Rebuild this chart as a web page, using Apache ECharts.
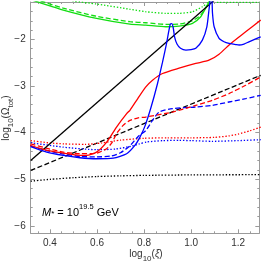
<!DOCTYPE html>
<html><head><meta charset="utf-8">
<script src="https://cdn.jsdelivr.net/npm/echarts@6/dist/echarts.min.js"></script>
<style>html,body{margin:0;padding:0;background:#fff}#c{width:262px;height:263px}</style>
</head><body><div id="c"></div>
<script>
// ---- tick positions / labels ----
const xMajorTicks = [0.4, 0.6, 0.8, 1.0, 1.2];
const xMinorTicks = [0.35, 0.45, 0.5, 0.55, 0.65, 0.7, 0.75, 0.85, 0.9, 0.95, 1.05, 1.1, 1.15, 1.25];
const yMajorTicks = [-6, -5, -4, -3, -2];
const yMinorTicks = [-5.8, -5.6, -5.4, -5.2, -4.8, -4.6, -4.4, -4.2, -3.8, -3.6, -3.4, -3.2, -2.8, -2.6, -2.4, -2.2, -1.8, -1.6, -1.4];
const xRange = [0.318, 1.290];
const yRange = [-6.157, -1.198];

// ---- series values [log10(xi), log10(Omega_tot)] ----
const blackSolid = [[0.318, -4.595], [1.10, -1.154]];
const blackDashed = [[0.318, -4.81], [1.296, -2.77]];
const blackDotted = [[0.318, -5.04], [0.40, -5.0], [0.50, -4.965], [0.60, -4.94], [0.70, -4.925], [0.80, -4.915], [1.0, -4.905], [1.29, -4.9]];

const greenSolid = [[0.318, -1.15], [0.3435, -1.19], [0.4565, -1.37], [0.598, -1.548], [0.740, -1.671], [0.8076, -1.693], [0.8925, -1.729], [0.949, -1.714], [1.006, -1.656], [1.041, -1.514], [1.062, -1.333], [1.079, -1.177], [1.085, -1.1]];
const greenDashed = [[0.33, -1.12], [0.357, -1.17], [0.4565, -1.33], [0.598, -1.505], [0.740, -1.621], [0.8076, -1.643], [0.8925, -1.677], [0.949, -1.671], [1.006, -1.6], [1.041, -1.477], [1.062, -1.32], [1.079, -1.177], [1.085, -1.1]];
const greenDotted = [[0.47, -1.12], [0.499, -1.176], [0.598, -1.241], [0.740, -1.355], [0.8076, -1.407], [0.8925, -1.441], [0.949, -1.441], [1.006, -1.407], [1.048, -1.299], [1.075, -1.192], [1.085, -1.1]];
const greenDottedTop = [[1.11, -1.207], [1.29, -1.207]];

const blueSolid = [[0.318, -4.30], [0.386, -4.417], [0.4565, -4.488], [0.527, -4.537], [0.598, -4.559], [0.669, -4.546], [0.726, -4.451], [0.761, -4.273], [0.782, -4.10], [0.803, -3.87], [0.83, -3.45], [0.857, -2.95], [0.878, -2.5], [0.895, -2.1], [0.906, -1.8], [0.912, -1.67], [0.918, -1.66], [0.924, -1.75], [0.93, -1.95], [0.94, -2.1], [0.955, -2.19], [0.978, -2.23], [1.0, -2.22], [1.02, -2.19], [1.048, -2.015], [1.067, -1.729], [1.076, -1.37], [1.081, -1.15], [1.085, -0.9], [1.089, -1.15], [1.091, -1.44], [1.098, -1.729], [1.119, -1.979], [1.14, -2.05], [1.161, -2.086], [1.19, -2.11], [1.204, -2.12], [1.225, -2.1], [1.246, -2.052], [1.27, -2.0], [1.296, -1.944]];
const blueDashed = [[0.318, -4.29], [0.40, -4.40], [0.46, -4.46], [0.53, -4.51], [0.598, -4.52], [0.66, -4.50], [0.70, -4.43], [0.74, -4.28], [0.775, -4.08], [0.808, -3.95], [0.836, -3.735], [0.864, -3.557], [0.921, -3.484], [1.02, -3.449], [1.091, -3.413], [1.161, -3.342], [1.232, -3.27], [1.296, -3.198]];
const blueDotted = [[0.318, -4.215], [0.4565, -4.31], [0.598, -4.365], [0.68, -4.35], [0.745, -4.29], [0.78, -4.24], [0.81, -4.20], [0.88, -4.17], [0.95, -4.165], [1.0, -4.17], [1.09, -4.185], [1.2, -4.17], [1.296, -4.15]];

const redSolid = [[0.315, -4.273], [0.386, -4.38], [0.4565, -4.439], [0.506, -4.477], [0.556, -4.488], [0.598, -4.417], [0.641, -4.202], [0.683, -3.879], [0.726, -3.591], [0.740, -3.52], [0.774, -3.262], [0.8076, -3.019], [0.836, -2.875], [0.8785, -2.731], [0.949, -2.617], [1.020, -2.516], [1.076, -2.445], [1.119, -2.316], [1.169, -2.086], [1.232, -1.837], [1.296, -1.585]];
const redDashed = [[0.318, -4.24], [0.40, -4.35], [0.4565, -4.417], [0.527, -4.45], [0.598, -4.438], [0.641, -4.344], [0.665, -4.2], [0.683, -4.02], [0.711, -3.843], [0.740, -3.735], [0.775, -3.68], [0.808, -3.664], [0.921, -3.557], [1.02, -3.413], [1.091, -3.305], [1.161, -3.161], [1.232, -2.983], [1.296, -2.804]];
const redDotted = [[0.318, -4.17], [0.40, -4.22], [0.46, -4.24], [0.55, -4.25], [0.62, -4.22], [0.70, -4.16], [0.80, -4.12], [0.9, -4.11], [1.0, -4.11], [1.1, -4.10], [1.16, -4.07], [1.2, -4.03], [1.25, -3.96], [1.296, -3.88]];

const FRAME = '#9a9a9a';
const TXT = '#333';
const FONT = '"Liberation Sans", Arial, sans-serif';
const GREEN = '#11dd11', BLUE = '#0000ff', RED = '#ff0000', BLACK = '#000000';
const DASH = [5, 2.5], DOT = [1.4, 1.8];

function mk(data, color, type) {
  return {
    type: 'line', data: data, xAxisIndex: 0, yAxisIndex: 0,
    showSymbol: false, symbol: 'none', smooth: 0.2, clip: true, animation: false,
    lineStyle: { color: color, width: 1.3, type: type || 'solid', cap: 'butt' },
    z: 3
  };
}

function xAx(pos, ticks, len, labels, line) {
  return {
    type: 'value', position: pos, min: xRange[0], max: xRange[1],
    axisLine: { show: line, onZero: false, lineStyle: { color: FRAME, width: 1 } },
    axisTick: { show: true, inside: true, length: len, customValues: ticks, lineStyle: { color: FRAME, width: 1 } },
    axisLabel: labels ? { show: true, customValues: ticks, color: TXT, fontSize: 10, fontFamily: FONT, margin: 5,
      formatter: v => Number(v).toFixed(1) } : { show: false },
    splitLine: { show: false }
  };
}
function yAx(pos, ticks, len, labels, line) {
  return {
    type: 'value', position: pos, min: yRange[0], max: yRange[1],
    axisLine: { show: line, onZero: false, lineStyle: { color: FRAME, width: 1 } },
    axisTick: { show: true, inside: true, length: len, customValues: ticks, lineStyle: { color: FRAME, width: 1 } },
    axisLabel: labels ? { show: true, customValues: ticks, color: TXT, fontSize: 10, fontFamily: FONT, margin: 5,
      formatter: v => String(Math.round(v)).replace('-', '\u2212') } : { show: false },
    splitLine: { show: false }
  };
}

const titleRich = {
  n: { fontSize: 10, fill: TXT, fontFamily: FONT, lineHeight: 14, verticalAlign: 'top' },
  i: { fontSize: 10, fill: TXT, fontFamily: FONT, fontStyle: 'italic', lineHeight: 14, verticalAlign: 'top' },
  s: { fontSize: 8, fill: TXT, fontFamily: FONT, lineHeight: 10, verticalAlign: 'bottom' }
};

const option = {
  animation: false,
  backgroundColor: '#fff',
  grid: { left: 30.7, top: 2, width: 228.6, height: 231.3, containLabel: false, outerBoundsMode: 'none' },
  xAxis: [
    xAx('bottom', xMajorTicks, 4, true, true),
    xAx('bottom', xMinorTicks, 2, false, false),
    xAx('top', xMajorTicks, 4, false, true),
    xAx('top', xMinorTicks, 2, false, false)
  ],
  yAxis: [
    yAx('left', yMajorTicks, 4, true, true),
    yAx('left', yMinorTicks, 2, false, false),
    yAx('right', yMajorTicks, 4, false, true),
    yAx('right', yMinorTicks, 2, false, false)
  ],
  graphic: [{
    type: 'text', left: 42, top: 203, z: 10,
    style: {
      text: '{m|M}{sub|*}{n| = 10}{sup|19.5}{n| GeV}',
      rich: {
        m: { fontSize: 11, fontStyle: 'italic', fill: '#000', fontFamily: FONT, lineHeight: 15, verticalAlign: 'bottom' },
        n: { fontSize: 11, fill: '#000', fontFamily: FONT, lineHeight: 15, verticalAlign: 'bottom' },
        sub: { fontSize: 8, fill: '#000', fontFamily: FONT, lineHeight: 9, verticalAlign: 'bottom' },
        sup: { fontSize: 7.5, fill: '#000', fontFamily: FONT, lineHeight: 9, verticalAlign: 'top' }
      }
    }
  }, {
    type: 'text', x: 146, y: 256, z: 10,
    style: { text: '{n|log}{s|10}{n|(}{i|ξ}{n|)}', rich: titleRich, align: 'center', verticalAlign: 'middle' }
  }, {
    type: 'text', x: 8, y: 118, rotation: Math.PI / 2, z: 10,
    style: { text: '{n|log}{s|10}{n|(Ω}{s|tot}{n|)}', rich: titleRich, align: 'center', verticalAlign: 'middle' }
  }],
  series: [
    mk(blackDotted, BLACK, DOT),
    mk(blackDashed, BLACK, DASH),
    mk(blueDotted, BLUE, DOT),
    mk(redDotted, RED, DOT),
    mk(blueDashed, BLUE, DASH),
    mk(redDashed, RED, DASH),
    mk(greenDotted, GREEN, DOT),
    mk(greenDottedTop, GREEN, DOT),
    mk(greenDashed, GREEN, DASH),
    mk(greenSolid, GREEN),
    mk(blackSolid, BLACK),
    mk(redSolid, RED),
    mk(blueSolid, BLUE)
  ]
};
const chart = echarts.init(document.getElementById('c'), null, { renderer: 'canvas' });
chart.setOption(option);
</script></body></html>
